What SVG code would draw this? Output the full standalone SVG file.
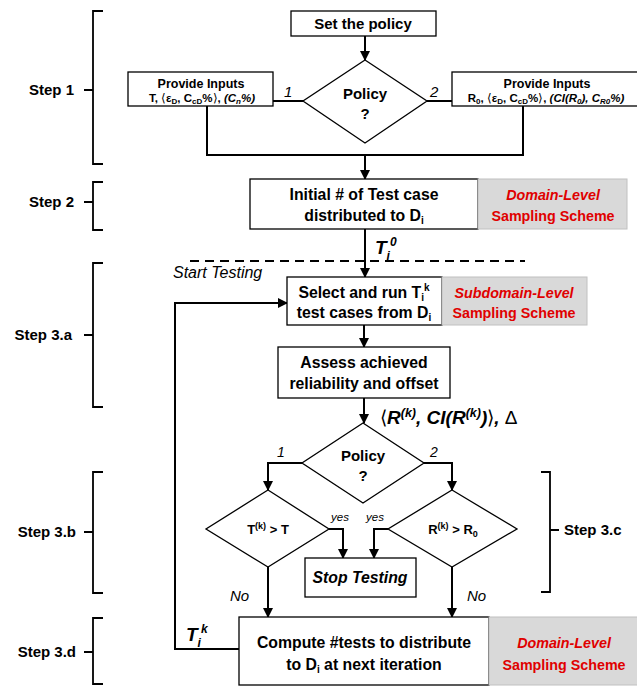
<svg xmlns="http://www.w3.org/2000/svg" width="637" height="690" viewBox="0 0 637 690">
<defs>
<style>
.box{fill:#fff;stroke:#000;stroke-width:1.3}
.gray{fill:#d9d9d9;stroke:#c0c0c0;stroke-width:1}
.ln{fill:none;stroke:#000;stroke-width:2}
.br{fill:none;stroke:#000;stroke-width:1.8}
.t{font-family:"Liberation Sans",Arial,sans-serif;font-weight:bold;font-size:15.8px;text-anchor:middle;fill:#000}
.s{font-size:12.5px}
.red{fill:#e00000;font-size:14.3px}
.it{font-style:italic}
.lab{font-family:"Liberation Sans",Arial,sans-serif;font-style:italic;font-size:14px;fill:#000}
.step{font-family:"Liberation Sans",Arial,sans-serif;font-weight:bold;font-size:15px;text-anchor:end;fill:#000}
.big{font-family:"Liberation Sans",Arial,sans-serif;font-weight:bold;font-style:italic;font-size:19px;fill:#000}
.n{font-style:normal;font-weight:normal}
</style>
<marker id="ah" markerUnits="userSpaceOnUse" markerWidth="10" markerHeight="10" refX="9" refY="5" orient="auto">
<path d="M0,0 L10,5 L0,10 z" fill="#000"/>
</marker>
</defs>

<g id="brackets">
<path class="br" d="M103,11 H93 V164 H103 M93,90 H84"/>
<text class="step" x="74" y="95">Step 1</text>
<path class="br" d="M103,182 H93 V230 H103 M93,202 H84"/>
<text class="step" x="74" y="207">Step 2</text>
<path class="br" d="M103,263 H93 V407 H103 M93,335 H84"/>
<text class="step" x="72" y="340">Step 3.a</text>
<path class="br" d="M103,472 H93 V593 H103 M93,532 H84"/>
<text class="step" x="76" y="537">Step 3.b</text>
<path class="br" d="M103,618 H93 V684 H103 M93,652 H84"/>
<text class="step" x="76" y="657">Step 3.d</text>
<path class="br" d="M541,472 H550 V592 H541 M550,530 H559"/>
<text class="step" x="564" y="535" style="text-anchor:start">Step 3.c</text>
</g>

<g id="connectors">
<path class="ln" d="M365,36 V60" marker-end="url(#ah)"/>
<path class="ln" d="M273,101 H303 M427,101 H452"/>
<path class="ln" d="M207,106 V155 H523 V106"/>
<path class="ln" d="M365,155 V179" marker-end="url(#ah)"/>
<path class="ln" d="M365,229 V277" marker-end="url(#ah)"/>
<path class="ln" d="M239,649 H175 V303 H287" marker-end="url(#ah)"/>
<path class="ln" d="M364,325 V347" marker-end="url(#ah)"/>
<path class="ln" d="M364,398 V423" marker-end="url(#ah)"/>
<path class="ln" d="M302,463 H268 V490" marker-end="url(#ah)"/>
<path class="ln" d="M424,463 H452 V490" marker-end="url(#ah)"/>
<path class="ln" d="M329,529 H343 V558" marker-end="url(#ah)"/>
<path class="ln" d="M388,529 H374 V558" marker-end="url(#ah)"/>
<path class="ln" d="M268,567 V617" marker-end="url(#ah)"/>
<path class="ln" d="M452,567 V617" marker-end="url(#ah)"/>
<line x1="190" y1="261" x2="525" y2="261" stroke="#000" stroke-width="1.8" stroke-dasharray="9,6"/>
</g>

<g id="labels">
<text class="lab" x="284" y="97" style="font-size:15px">1</text>
<text class="lab" x="430" y="97" style="font-size:15px">2</text>
<text class="big" x="375" y="254">T<tspan dy="6" font-size="12">i</tspan><tspan dy="-14" font-size="12">0</tspan></text>
<text class="lab" x="173" y="278" style="font-size:16px">Start Testing</text>
<text class="big" x="380" y="424"><tspan class="n">⟨</tspan>R<tspan dy="-7" font-size="12.5">(k)</tspan><tspan dy="7">, CI(R</tspan><tspan dy="-7" font-size="12.5">(k)</tspan><tspan dy="7">)</tspan><tspan class="n">⟩</tspan>, <tspan class="n">Δ</tspan></text>
<text class="lab" x="277" y="457">1</text>
<text class="lab" x="430" y="457">2</text>
<text class="lab" x="331" y="521" style="font-size:11.5px">yes</text>
<text class="lab" x="366" y="521" style="font-size:11.5px">yes</text>
<text class="lab" x="230" y="601" style="font-size:15px">No</text>
<text class="lab" x="467" y="601" style="font-size:15px">No</text>
<text class="big" x="186" y="641">T<tspan dy="6" font-size="12">i</tspan><tspan dy="-14" font-size="12">k</tspan></text>
</g>

<g id="set-policy">
<rect class="box" x="291" y="11" width="145" height="25"/>
<text class="t" x="363" y="29" style="font-size:15px">Set the policy</text>
</g>

<g id="policy1">
<polygon class="box" points="365,60 427,101 365,143 303,101"/>
<text class="t" x="365" y="99" style="font-size:15px">Policy</text>
<text class="t" x="365" y="119" style="font-size:15px">?</text>
</g>

<g id="inputs-left">
<rect class="box" x="128" y="72" width="145" height="34"/>
<text class="t s" x="201" y="88">Provide  Inputs</text>
<text class="t s" x="202" y="102" style="font-size:11.5px">T, <tspan class="n">⟨</tspan>ε<tspan dy="2" font-size="8">D</tspan><tspan dy="-2">, C</tspan><tspan dy="2" font-size="8">cD</tspan><tspan dy="-2">%</tspan><tspan class="n">⟩</tspan>, <tspan font-style="italic">(C<tspan dy="2" font-size="8">n</tspan><tspan dy="-2">%)</tspan></tspan></text>
</g>

<g id="inputs-right">
<rect class="box" x="452" y="72" width="190" height="34"/>
<text class="t s" x="547" y="88">Provide Inputs</text>
<text class="t s" x="546" y="102" style="font-size:11.5px">R<tspan dy="2" font-size="8">0</tspan><tspan dy="-2">, </tspan><tspan class="n">⟨</tspan>ε<tspan dy="2" font-size="8">D</tspan><tspan dy="-2">, C</tspan><tspan dy="2" font-size="8">cD</tspan><tspan dy="-2">%</tspan><tspan class="n">⟩</tspan>, <tspan font-style="italic">(CI(R<tspan dy="2" font-size="8">0</tspan><tspan dy="-2">), C</tspan><tspan dy="2" font-size="8">R0</tspan><tspan dy="-2">%)</tspan></tspan></text>
</g>

<g id="initial">
<rect class="box" x="250" y="179" width="228" height="50"/>
<text class="t" x="364" y="200">Initial # of Test case</text>
<text class="t" x="364" y="221">distributed to D<tspan dy="3" font-size="10">i</tspan></text>
</g>
<g id="domain1">
<rect class="gray" x="478" y="179" width="149" height="50"/>
<text class="t red it" x="553" y="200">Domain-Level</text>
<text class="t red" x="553" y="221">Sampling Scheme</text>
</g>

<g id="select">
<rect class="box" x="287" y="277" width="155" height="48"/>
<text class="t" x="364" y="298">Select and run T<tspan dy="3" font-size="10">i</tspan><tspan dy="-10" font-size="10">k</tspan></text>
<text class="t" x="364" y="318">test cases from D<tspan dy="3" font-size="10">i</tspan></text>
</g>
<g id="subdomain">
<rect class="gray" x="442" y="277" width="145" height="48"/>
<text class="t red it" x="514" y="298">Subdomain-Level</text>
<text class="t red" x="514" y="318">Sampling Scheme</text>
</g>

<g id="assess">
<rect class="box" x="278" y="347" width="172" height="51"/>
<text class="t" x="364" y="368">Assess achieved</text>
<text class="t" x="364" y="389">reliability and offset</text>
</g>

<g id="policy2">
<polygon class="box" points="363,423 424,463 363,503 302,463"/>
<text class="t" x="363" y="461" style="font-size:15px">Policy</text>
<text class="t" x="363" y="481" style="font-size:15px">?</text>
</g>

<g id="cond-t">
<polygon class="box" points="268,490 329,529 268,567 206,529"/>
<text class="t" x="268" y="534" style="font-size:13px">T<tspan dy="-5" font-size="9">(k)</tspan><tspan dy="5"> &gt; T</tspan></text>
</g>

<g id="cond-r">
<polygon class="box" points="452,490 517,529 452,567 388,529"/>
<text class="t" x="453" y="534" style="font-size:13px">R<tspan dy="-5" font-size="9">(k)</tspan><tspan dy="5"> &gt; R</tspan><tspan dy="3" font-size="9">0</tspan></text>
</g>

<g id="stop">
<rect class="box" x="305" y="558" width="111" height="39"/>
<text class="t it" x="360" y="583">Stop Testing</text>
</g>

<g id="compute">
<rect class="box" x="239" y="617" width="250" height="68"/>
<text class="t" x="364" y="648">Compute #tests to distribute</text>
<text class="t" x="364" y="670">to D<tspan dy="3" font-size="10">i</tspan><tspan dy="-3"> at next iteration</tspan></text>
</g>
<g id="domain2">
<rect class="gray" x="489" y="617" width="150" height="68"/>
<text class="t red it" x="564" y="648">Domain-Level</text>
<text class="t red" x="564" y="670">Sampling Scheme</text>
</g>
</svg>
